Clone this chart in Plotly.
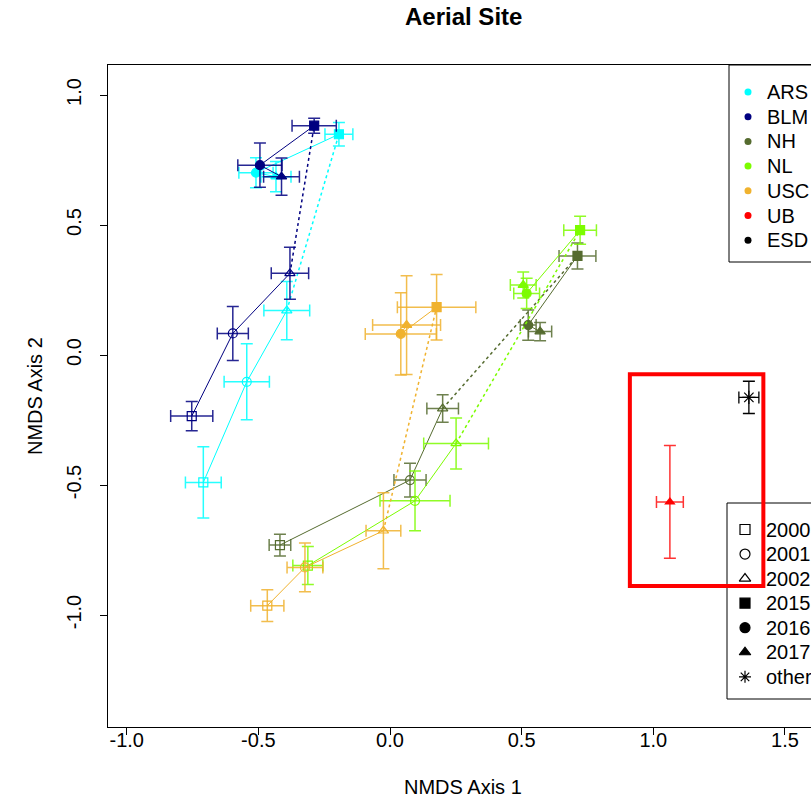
import plotly.graph_objects as go

# ---------------- data ----------------
years = ["2000", "2001", "2002", "2015", "2016", "2017"]
sites = ["ARS", "BLM", "NH", "NL", "USC"]
site_colors = {"ARS": "#00FFFF", "BLM": "#000080", "NH": "#556B2F",
               "NL": "#7CFC00", "USC": "#F0B22E", "UB": "#FF0000", "ESD": "#000000"}

# NMDS axis 1 means per site, year order as `years`
axis1 = {
    "ARS": [-0.709, -0.544, -0.392, -0.194, -0.509, -0.433],
    "BLM": [-0.753, -0.597, -0.380, -0.288, -0.494, -0.412],
    "NH":  [-0.418, 0.076, 0.200, 0.712, 0.525, 0.570],
    "NL":  [-0.312, 0.095, 0.251, 0.722, 0.519, 0.506],
    "USC": [-0.466, -0.323, -0.025, 0.177, 0.041, 0.063],
}
axis2 = {
    "ARS": [-0.490, -0.103, 0.171, 0.849, 0.701, 0.686],
    "BLM": [-0.235, 0.083, 0.314, 0.882, 0.730, 0.686],
    "NH":  [-0.731, -0.481, -0.206, 0.381, 0.115, 0.090],
    "NL":  [-0.810, -0.561, -0.340, 0.480, 0.237, 0.269],
    "USC": [-0.964, -0.817, -0.676, 0.184, 0.081, 0.115],
}
se1 = {
    "ARS": [0.068, 0.086, 0.087, 0.053, 0.065, 0.057],
    "BLM": [0.080, 0.059, 0.071, 0.084, 0.084, 0.068],
    "NH":  [0.041, 0.061, 0.060, 0.070, 0.030, 0.044],
    "NL":  [0.057, 0.133, 0.123, 0.062, 0.049, 0.049],
    "USC": [0.063, 0.068, 0.066, 0.149, 0.135, 0.129],
}
se2 = {
    "ARS": [0.137, 0.146, 0.112, 0.045, 0.058, 0.058],
    "BLM": [0.056, 0.104, 0.100, 0.029, 0.085, 0.072],
    "NH":  [0.042, 0.065, 0.053, 0.050, 0.058, 0.035],
    "NL":  [0.073, 0.115, 0.098, 0.054, 0.058, 0.050],
    "USC": [0.061, 0.094, 0.146, 0.126, 0.158, 0.190],
}
# single-point groups
ub_point = {"x": 1.063, "y": -0.565, "sx": 0.051, "sy": 0.217}   # UB, 2017
esd_point = {"x": 1.363, "y": -0.163, "sx": 0.038, "sy": 0.062}  # ESD, other

year_symbols = ["square-open", "circle-open", "triangle-up-open",
                "square", "circle", "triangle-up"]
legend_sites = ["ARS", "BLM", "NH", "NL", "USC", "UB", "ESD"]
legend_years = ["2000", "2001", "2002", "2015", "2016", "2017", "other"]
legend_year_symbols = year_symbols + ["asterisk-open"]

x_ticks = [-1.0, -0.5, 0.0, 0.5, 1.0, 1.5]
y_ticks = [-1.0, -0.5, 0.0, 0.5, 1.0]

highlight_box = {"x0": 0.911, "x1": 1.418, "y0": -0.888, "y1": -0.074}

# ---------------- figure ----------------
W, H = 811, 802
L, R, T, B = 108, 0, 65, 75
FONT = "Liberation Sans, Arial, sans-serif"

fig = go.Figure()

def rgba(hex_color, a):
    h = hex_color.lstrip("#")
    return "rgba(%d,%d,%d,%s)" % (int(h[0:2], 16), int(h[2:4], 16), int(h[4:6], 16), a)

for s in sites:
    c = site_colors[s]
    xs, ys = axis1[s], axis2[s]
    # 2000-2002 solid
    fig.add_trace(go.Scatter(x=xs[0:3], y=ys[0:3], mode="lines",
                             line=dict(color=c, width=1), showlegend=False, hoverinfo="skip"))
    # 2002 -> 2015 dotted
    fig.add_trace(go.Scatter(x=xs[2:4], y=ys[2:4], mode="lines",
                             line=dict(color=c, width=1.5, dash="dot"), showlegend=False, hoverinfo="skip"))
    # 2015-2017 solid
    fig.add_trace(go.Scatter(x=xs[3:6], y=ys[3:6], mode="lines",
                             line=dict(color=c, width=1), showlegend=False, hoverinfo="skip"))
    fig.add_trace(go.Scatter(
        x=xs, y=ys, mode="markers", name=s, text=years,
        marker=dict(symbol=year_symbols, size=9, color=c, line=dict(color=c, width=1.2)),
        error_x=dict(type="data", array=se1[s], color=rgba(c, 0.85), thickness=1.5, width=6),
        error_y=dict(type="data", array=se2[s], color=rgba(c, 0.85), thickness=1.5, width=6),
        showlegend=False))

fig.add_trace(go.Scatter(
    x=[ub_point["x"]], y=[ub_point["y"]], mode="markers", name="UB",
    marker=dict(symbol="triangle-up", size=10, color=site_colors["UB"]),
    error_x=dict(type="data", array=[ub_point["sx"]], color=rgba(site_colors["UB"], 0.8), thickness=1.5, width=6),
    error_y=dict(type="data", array=[ub_point["sy"]], color=rgba(site_colors["UB"], 0.8), thickness=1.5, width=6),
    showlegend=False))
fig.add_trace(go.Scatter(
    x=[esd_point["x"]], y=[esd_point["y"]], mode="markers", name="ESD",
    marker=dict(symbol="asterisk-open", size=11, color="black", line=dict(color="black", width=1.2)),
    error_x=dict(type="data", array=[esd_point["sx"]], color="black", thickness=1.3, width=6),
    error_y=dict(type="data", array=[esd_point["sy"]], color="black", thickness=1.3, width=6),
    showlegend=False))

# ---------- legends (drawn on a pixel-based overlay axis) ----------
leg1 = dict(left=729, top=65, bottom=262, first=92, step=24.7, mx=748, tx=765)
leg2 = dict(left=727, top=503, bottom=699, first=529.5, step=24.55, mx=745, tx=764)

shapes = []
for lg in (leg1, leg2):
    shapes.append(dict(type="rect", xref="x2", yref="y2", x0=lg["left"], x1=840,
                       y0=lg["top"], y1=lg["bottom"], line=dict(color="black", width=1),
                       fillcolor="rgba(0,0,0,0)", layer="above"))

fig.add_trace(go.Scatter(
    x=[leg1["mx"]] * len(legend_sites),
    y=[leg1["first"] + i * leg1["step"] for i in range(len(legend_sites))],
    xaxis="x2", yaxis="y2", mode="markers",
    marker=dict(symbol="circle", size=7, color=[site_colors[s] for s in legend_sites]),
    showlegend=False, hoverinfo="skip", cliponaxis=False))
fig.add_trace(go.Scatter(
    x=[leg2["mx"]] * len(legend_years),
    y=[leg2["first"] + i * leg2["step"] for i in range(len(legend_years))],
    xaxis="x2", yaxis="y2", mode="markers",
    marker=dict(symbol=legend_year_symbols, size=10, color="black", line=dict(color="black", width=1.2)),
    showlegend=False, hoverinfo="skip", cliponaxis=False))

annotations = []
for lg, labels in ((leg1, legend_sites), (leg2, legend_years)):
    for i, lab in enumerate(labels):
        annotations.append(dict(x=lg["tx"], y=lg["first"] + i * lg["step"], xref="x2", yref="y2",
                                text=lab, showarrow=False, xanchor="left", yanchor="middle",
                                font=dict(size=20, color="black", family=FONT)))

# red highlight rectangle (data coordinates), drawn above legend
shapes.append(dict(type="rect", xref="x", yref="y",
                   x0=highlight_box["x0"], x1=highlight_box["x1"],
                   y0=highlight_box["y0"], y1=highlight_box["y1"],
                   line=dict(color="#FF0000", width=4), layer="above"))

# title and axis titles
annotations.append(dict(text="<b>Aerial Site</b>", xref="paper", yref="paper",
                        x=(463 - L) / (W - L - R), y=1 + (T - 17) / (H - T - B),
                        showarrow=False, xanchor="center", yanchor="middle",
                        font=dict(size=24, color="black", family=FONT)))
annotations.append(dict(text="NMDS Axis 1", xref="paper", yref="paper",
                        x=(463 - L) / (W - L - R), y=-(787 - (H - B)) / (H - T - B),
                        showarrow=False, xanchor="center", yanchor="middle",
                        font=dict(size=20, color="black", family=FONT)))
annotations.append(dict(text="NMDS Axis 2", xref="paper", yref="paper",
                        x=-(L - 35) / (W - L - R), y=0.5, textangle=-90,
                        showarrow=False, xanchor="center", yanchor="middle",
                        font=dict(size=20, color="black", family=FONT)))

fig.update_layout(
    width=W, height=H,
    margin=dict(l=L, r=R, t=T, b=B, autoexpand=False),
    paper_bgcolor="white", plot_bgcolor="white",
    font=dict(family=FONT, size=20, color="black"),
    showlegend=False,
    xaxis=dict(range=[(L - 390) / 263.3, (W - R - 390) / 263.3],
               tickvals=x_ticks, ticktext=["%.1f" % v for v in x_ticks],
               showgrid=False, zeroline=False, showline=True, linecolor="black", linewidth=1,
               mirror=True, ticks="outside", ticklen=7, tickcolor="black",
               ticklabelstandoff=-12,
               tickfont=dict(size=20, family=FONT)),
    yaxis=dict(range=[(355 - (H - B)) / 260, (355 - T) / 260],
               tickvals=y_ticks, ticktext=["%.1f" % v for v in y_ticks],
               showgrid=False, zeroline=False, showline=True, linecolor="black", linewidth=1,
               mirror=False, ticks="outside", ticklen=7, tickcolor="black", tickangle=-90,
               ticklabelstandoff=11,
               tickfont=dict(size=20, family=FONT)),
    xaxis2=dict(overlaying="x", range=[L, W - R], visible=False, fixedrange=True),
    yaxis2=dict(overlaying="y", range=[H - B, T], visible=False, fixedrange=True),
    shapes=shapes,
    annotations=annotations,
)

fig.write_html("out.html",
               config={"displayModeBar": False},
               post_script="document.body.style.margin='0px';document.body.style.padding='0px';"
                           "document.body.style.overflow='hidden';")
